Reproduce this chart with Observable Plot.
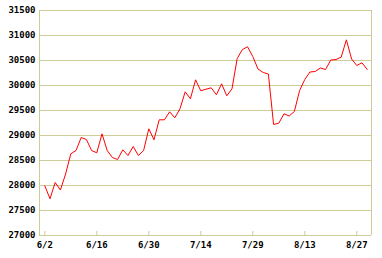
<!DOCTYPE html>
<html>
<head>
<meta charset="utf-8">
<script src="https://cdn.jsdelivr.net/npm/d3@7"></script>
<script src="https://cdn.jsdelivr.net/npm/@observablehq/plot@0.6"></script>
<style>
  html, body { margin: 0; padding: 0; background: #fff; }
  #chart svg { display: block; }
</style>
</head>
<body>
<div id="chart"></div>
<script>
// Closing values, one per trading day (index 0 = 6/2)
const values = [
  27994, 27735, 28060, 27910, 28230, 28634, 28700, 28960, 28920, 28700,
  28654, 29034, 28700, 28560, 28520, 28714, 28600, 28780, 28600, 28700,
  29134, 28914, 29314, 29314, 29474, 29354, 29534, 29874, 29734, 30114,
  29894, 29926, 29954, 29814, 30034, 29794, 29934, 30540, 30720, 30774,
  30580, 30330, 30260, 30230, 29220, 29246, 29434, 29390, 29480, 29900,
  30120, 30270, 30280, 30350, 30320, 30510, 30520, 30566, 30914, 30530,
  30400, 30454, 30320
];
const xTickIndex = [0, 10, 20, 30, 40, 50, 60];
const xTickLabels = ["6/2", "6/16", "6/30", "7/14", "7/29", "8/13", "8/27"];
const yTicks = [27000, 27500, 28000, 28500, 29000, 29500, 30000, 30500, 31000, 31500];

const gridColor = "#cccc99";
const xDomain = [-1.02, 62.83];
const data = values.map((v, i) => ({i, v}));

const chart = Plot.plot({
  width: 382,
  height: 258,
  marginTop: 10,
  marginBottom: 23,
  marginLeft: 39,
  marginRight: 11,
  style: {fontFamily: "'DejaVu Sans Mono', monospace", fontSize: "9px", color: "#000", background: "#fff"},
  x: {domain: xDomain},
  y: {domain: [27000, 31500]},
  marks: [
    Plot.ruleY(yTicks, {stroke: gridColor, strokeWidth: 1, strokeOpacity: 1}),
    Plot.ruleX(xDomain, {stroke: gridColor, strokeWidth: 1, strokeOpacity: 1}),
    Plot.ruleX(xTickIndex, {y1: 27000, y2: 27080, stroke: gridColor, strokeWidth: 1}),
    Plot.axisY({ticks: yTicks, tickSize: 0, tickPadding: 4, tickFormat: d => String(d), label: null, fill: "#000", fontWeight: 600, style: {letterSpacing: "-0.4px"}}),
    Plot.axisX({ticks: xTickIndex, tickSize: 0, tickPadding: 6, tickFormat: d => xTickLabels[xTickIndex.indexOf(d)], label: null, fill: "#000", fontWeight: 600, style: {letterSpacing: "-0.4px"}}),
    Plot.line(data, {x: "i", y: "v", stroke: "#ff0000", strokeWidth: 1, curve: "linear", style: {shapeRendering: "crispEdges"}})
  ]
});
document.getElementById("chart").appendChild(chart);
</script>
</body>
</html>
